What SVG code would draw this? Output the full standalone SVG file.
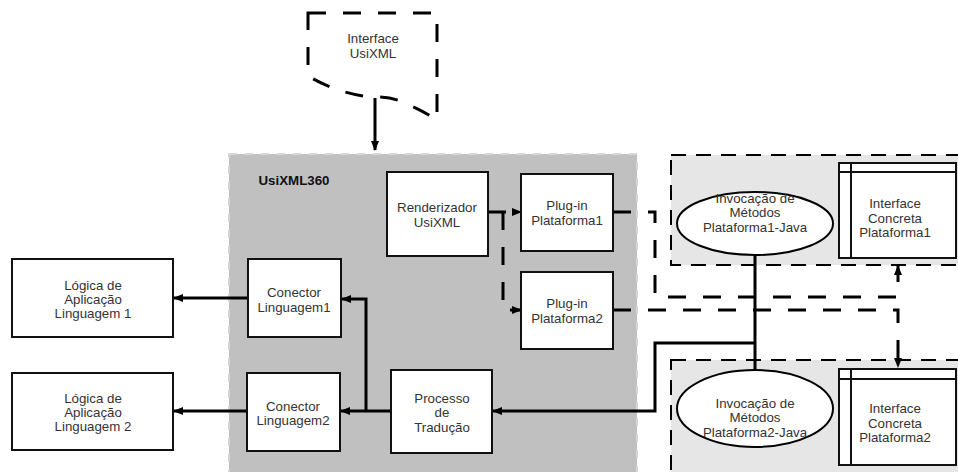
<svg xmlns="http://www.w3.org/2000/svg" width="958" height="472" viewBox="0 0 958 472">
<defs>
<style>
text{font-family:"Liberation Sans",Arial,sans-serif;font-size:13.3px;fill:#333;text-anchor:middle}
.box{fill:#fff;stroke:#111;stroke-width:2}
.solid{fill:none;stroke:#000;stroke-width:3}
.dash{fill:none;stroke:#000;stroke-width:3;stroke-dasharray:18 17}
.cont{fill:#e6e6e6;stroke:#000;stroke-width:2;stroke-dasharray:15 10}
</style>
<marker id="ah" markerWidth="10" markerHeight="8" refX="9" refY="4" orient="auto" markerUnits="userSpaceOnUse">
<path d="M0,0 L10,4 L0,8 Z" fill="#000"/>
</marker>
</defs>
<rect width="958" height="472" fill="#fff"/>

<g id="usixml360">
<rect x="229" y="154" width="408" height="330" fill="#c0c0c0" stroke="#d6d6d6" stroke-width="2" stroke-dasharray="8 8"/>
<text x="294" y="185" style="font-weight:bold;fill:#111">UsiXML360</text>
</g>
<g id="container1"><rect class="cont" x="671" y="155" width="300" height="110"/></g>
<g id="container2"><rect class="cont" x="671" y="360" width="300" height="130"/></g>

<g id="connectors">
<path class="solid" d="M375,98 V150" stroke-width="2" marker-end="url(#ah)"/>
<path class="dash" d="M488,212 H521" marker-end="url(#ah)"/>
<path class="dash" d="M503,212 V310 H521" marker-end="url(#ah)"/>
<path class="dash" d="M613,212 H655 V297 H898 V266" marker-end="url(#ah)"/>
<path class="dash" d="M613,310 H898 V367" marker-end="url(#ah)"/>
<path class="solid" d="M755,255 V370"/>
<path class="solid" d="M755,343 H655 V411 H493" marker-end="url(#ah)"/>
<path class="solid" d="M391,411 H341" marker-end="url(#ah)"/>
<path class="solid" d="M366,411 V299 H342" marker-end="url(#ah)"/>
<path class="solid" d="M248,298 H174" marker-end="url(#ah)"/>
<path class="solid" d="M247,411 H174" marker-end="url(#ah)"/>
</g>

<g id="interface-usixml">
<path d="M308,13 H437 V120 C425,112 412,106 400,101 C390,97 382,97 370,97 C345,94 325,86 308,76 Z" fill="#fff" stroke="#000" stroke-width="3" stroke-dasharray="18 17"/>
<text x="373" y="43">Interface</text>
<text x="373" y="58">UsiXML</text>
</g>

<g id="renderizador">
<rect class="box" x="387" y="172" width="101" height="84"/>
<text x="437" y="212">Renderizador</text>
<text x="437" y="227">UsiXML</text>
</g>
<g id="plugin1">
<rect class="box" x="521" y="174" width="92" height="77"/>
<text x="567" y="210">Plug-in</text>
<text x="567" y="225">Plataforma1</text>
</g>
<g id="plugin2">
<rect class="box" x="521" y="272" width="92" height="77"/>
<text x="567" y="308">Plug-in</text>
<text x="567" y="323">Plataforma2</text>
</g>
<g id="conector1">
<rect class="box" x="248" y="259" width="93" height="78"/>
<text x="294" y="297">Conector</text>
<text x="294" y="312">Linguagem1</text>
</g>
<g id="conector2">
<rect class="box" x="247" y="373" width="93" height="78"/>
<text x="293" y="411">Conector</text>
<text x="293" y="425">Linguagem2</text>
</g>
<g id="processo">
<rect class="box" x="391" y="370" width="101" height="83"/>
<text x="442" y="403">Processo</text>
<text x="442" y="417">de</text>
<text x="442" y="432">Tradução</text>
</g>
<g id="logica1">
<rect class="box" x="12" y="259" width="161" height="78"/>
<text x="93" y="290">Lógica de</text>
<text x="93" y="304">Aplicação</text>
<text x="93" y="318">Linguagem 1</text>
</g>
<g id="logica2">
<rect class="box" x="12" y="373" width="161" height="77"/>
<text x="93" y="403">Lógica de</text>
<text x="93" y="417">Aplicação</text>
<text x="93" y="431">Linguagem 2</text>
</g>
<g id="invocacao1">
<ellipse cx="755" cy="223.5" rx="78" ry="31.5" fill="#fff" stroke="#000" stroke-width="2"/>
<text x="755" y="203">Invocação de</text>
<text x="755" y="217">Métodos</text>
<text x="755" y="232">Plataforma1-Java</text>
</g>
<g id="invocacao2">
<ellipse cx="755" cy="408.5" rx="78" ry="38.5" fill="#fff" stroke="#000" stroke-width="2"/>
<text x="755" y="408">Invocação de</text>
<text x="755" y="422">Métodos</text>
<text x="755" y="437">Plataforma2-Java</text>
</g>
<g id="concreta1">
<rect class="box" x="839" y="163" width="117" height="95"/>
<path d="M839,172 H956 M851,163 V258" stroke="#111" stroke-width="2" fill="none"/>
<text x="895" y="208">Interface</text>
<text x="895" y="223">Concreta</text>
<text x="895" y="237">Plataforma1</text>
</g>
<g id="concreta2">
<rect class="box" x="839" y="369" width="117" height="96"/>
<path d="M839,379 H956 M851,369 V465" stroke="#111" stroke-width="2" fill="none"/>
<text x="895" y="413">Interface</text>
<text x="895" y="428">Concreta</text>
<text x="895" y="442">Plataforma2</text>
</g>
</svg>
